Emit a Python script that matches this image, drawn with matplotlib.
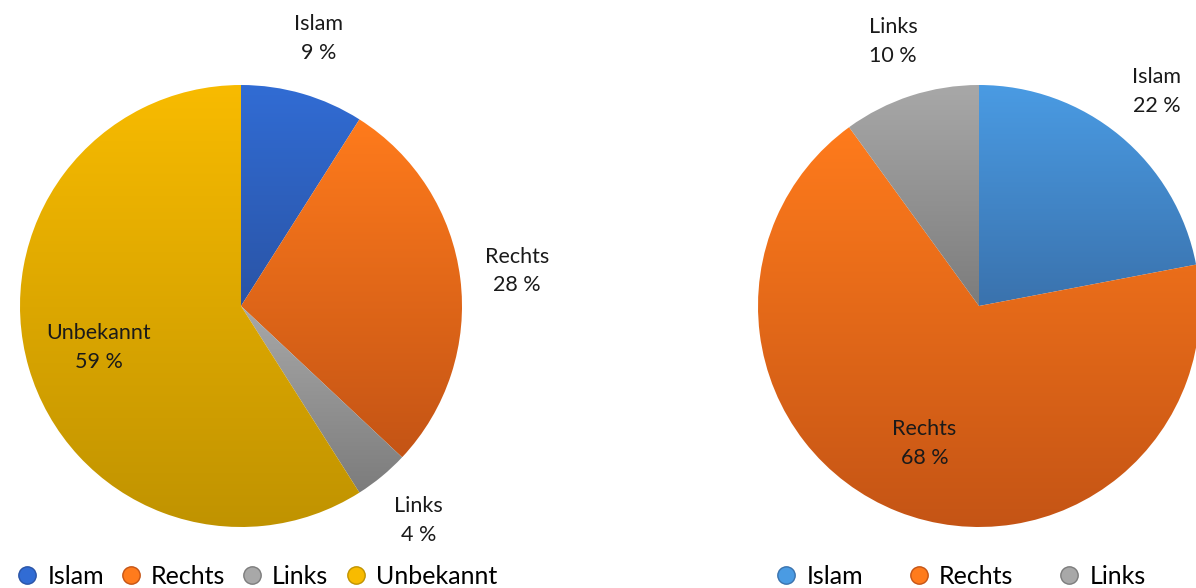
import numpy as np
import matplotlib.pyplot as plt
from matplotlib.colors import LinearSegmentedColormap
from matplotlib.lines import Line2D

plt.rcParams['font.family'] = ['Lato', 'DejaVu Sans']

# data
left_labels = ['Islam', 'Rechts', 'Links', 'Unbekannt']
left_values = [9, 28, 4, 59]
right_labels = ['Islam', 'Rechts', 'Links']
right_values = [22, 68, 10]

# gradient colours (top, bottom)
left_colors = [('#316cd4', '#2a54a6'), ('#ff7b1c', '#c45415'),
               ('#a8a8a8', '#7c7c7c'), ('#f8bb00', '#c09300')]
right_colors = [('#4a9be3', '#3a72ad'), ('#ff7b1c', '#c45415'),
                ('#a8a8a8', '#7c7c7c')]

W, H = 1196, 588
fig = plt.figure(figsize=(W / 100, H / 100), dpi=100)


def gradient_pie(ax, labels, values, colors):
    wedges, _ = ax.pie(values, startangle=90, counterclock=False, radius=1,
                       colors=[c[0] for c in colors])
    grad = np.linspace(0, 1, 256).reshape(-1, 1)
    total = sum(values)
    start = 90.0
    for w, (top, bot), lab, v in zip(wedges, colors, labels, values):
        w.set_facecolor('none')
        w.set_edgecolor('none')
        verts = w.get_path().vertices
        x0, x1 = verts[:, 0].min(), verts[:, 0].max()
        y0, y1 = verts[:, 1].min(), verts[:, 1].max()
        cmap = LinearSegmentedColormap.from_list('g', [top, bot])
        im = ax.imshow(grad, cmap=cmap, extent=(x0, x1, y0, y1),
                       origin='upper', aspect='auto', zorder=1)
        im.set_clip_path(w)
        # label
        frac = v / total
        mid = np.deg2rad(start - frac * 360 / 2)
        start -= frac * 360
        dist = 0.67 if frac > 0.5 else 1.26
        ax.text(dist * np.cos(mid), dist * np.sin(mid), f'{lab}\n{v} %',
                ha='center', va='center', fontsize=15.5, linespacing=1.55,
                color='#1a1a1a', zorder=3)
    ax.set_xlim(-1, 1)
    ax.set_ylim(-1, 1)
    ax.set_aspect('equal')
    ax.axis('off')


r = 221
axl = fig.add_axes([(241 - r) / W, (H - 306 - r) / H, 2 * r / W, 2 * r / H])
gradient_pie(axl, left_labels, left_values, left_colors)
axr = fig.add_axes([(979 - r) / W, (H - 306 - r) / H, 2 * r / W, 2 * r / H])
gradient_pie(axr, right_labels, right_values, right_colors)


def handles(labels, colors):
    return [Line2D([], [], marker='o', linestyle='none', markersize=12.5,
                   markerfacecolor=c[0], markeredgecolor=c[1], label=l)
            for l, c in zip(labels, colors)]


fig.legend(handles=handles(left_labels, left_colors), loc='center',
           bbox_to_anchor=(257 / W, 1 - 576 / H), ncol=4, frameon=False,
           fontsize=18, handletextpad=0.4, columnspacing=0.68,
           handlelength=0.8, borderpad=0)
fig.legend(handles=handles(right_labels, right_colors), loc='center',
           bbox_to_anchor=(961 / W, 1 - 576 / H), ncol=3, frameon=False,
           fontsize=18, handletextpad=0.4, columnspacing=1.84,
           handlelength=0.8, borderpad=0)

fig.savefig('out.png', dpi=100)
